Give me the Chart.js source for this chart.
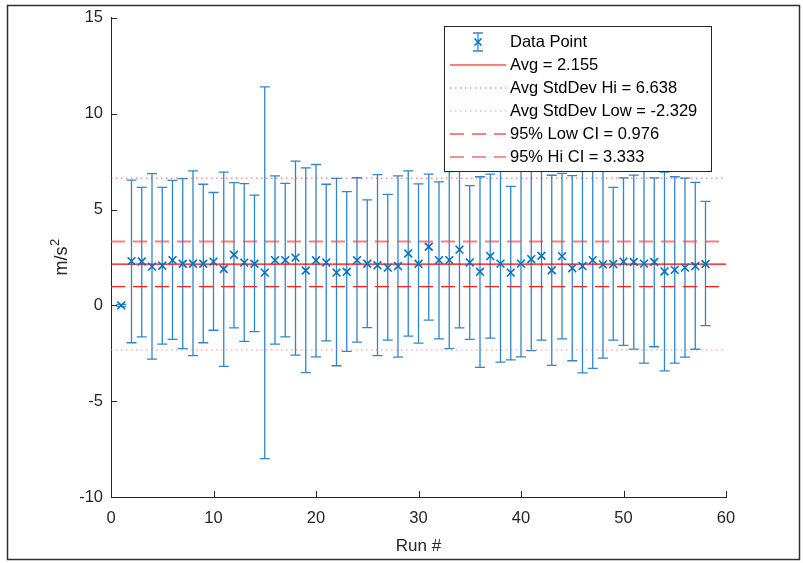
<!DOCTYPE html>
<html>
<head>
<meta charset="utf-8">
<script src="https://cdn.jsdelivr.net/npm/chart.js@4"></script>
<style>
  html, body { margin: 0; background: #fff; }
</style>
</head>
<body>
<canvas id="chart" width="803" height="563"></canvas>
<script>
// run numbers
const runs = [1, 2, 3, 4, 5, 6, 7, 8, 9, 10,
  11, 12, 13, 14, 15, 16, 17, 18, 19, 20,
  21, 22, 23, 24, 25, 26, 27, 28, 29, 30,
  31, 32, 33, 34, 35, 36, 37, 38, 39, 40,
  41, 42, 43, 44, 45, 46, 47, 48, 49, 50,
  51, 52, 53, 54, 55, 56, 57, 58];

// mean value of each run (m/s^2)
const means = [0, 2.31, 2.29, 2.02, 2.07, 2.36, 2.17, 2.17, 2.17, 2.28,
  1.90, 2.64, 2.23, 2.17, 1.71, 2.36, 2.36, 2.49, 1.82, 2.35,
  2.24, 1.71, 1.75, 2.36, 2.17, 2.09, 1.97, 2.05, 2.71, 2.17,
  3.06, 2.36, 2.36, 2.91, 2.24, 1.75, 2.57, 2.18, 1.71, 2.18,
  2.41, 2.59, 1.83, 2.57, 1.94, 2.05, 2.36, 2.14, 2.16, 2.28,
  2.26, 2.18, 2.26, 1.77, 1.85, 1.97, 2.05, 2.16];

// top of each error bar
const upper = [0.05, 6.54, 6.16, 6.87, 6.16, 6.52, 6.61, 7.02, 6.32, 5.89,
  6.95, 6.40, 6.35, 5.75, 11.40, 6.76, 6.37, 7.53, 7.17, 7.35,
  6.32, 6.63, 5.94, 6.66, 5.50, 6.82, 5.79, 6.76, 7.02, 6.34,
  6.85, 6.44, 6.98, 7.00, 6.25, 6.71, 6.85, 7.32, 6.21, 7.05,
  7.18, 6.99, 6.79, 6.89, 6.77, 7.62, 8.01, 7.03, 6.16, 6.65,
  6.80, 7.37, 6.65, 6.96, 6.71, 6.64, 6.42, 5.43];

// bottom of each error bar
const lower = [-0.05, -1.95, -1.64, -2.81, -2.02, -1.78, -2.26, -2.62, -1.95, -1.30,
  -3.18, -1.18, -1.88, -1.37, -8.00, -2.02, -1.64, -2.60, -3.51, -2.69,
  -1.85, -3.15, -2.40, -1.92, -1.16, -2.62, -1.81, -2.70, -1.61, -1.97,
  -0.77, -1.75, -2.26, -1.18, -1.78, -3.24, -1.71, -2.96, -2.84, -2.69,
  -2.36, -1.81, -3.13, -1.75, -2.89, -3.52, -3.29, -2.75, -1.81, -2.09,
  -2.28, -3.01, -2.16, -3.42, -3.01, -2.70, -2.29, -1.06];

// reference lines
const refLabels = ['Avg = 2.155', 'Avg StdDev Hi = 6.638', 'Avg StdDev Low = -2.329',
  '95% Low CI = 0.976', '95% Hi CI = 3.333'];
const refValues = [2.155, 6.638, -2.329, 3.333, 0.976];
const xRange = [0, 60];

const xTicks = [0, 10, 20, 30, 40, 50, 60];
const yTicks = [-10, -5, 0, 5, 10, 15];

const BLUE = '#0072BD';
const AXIS = '#262626';
const FONT = '"Liberation Sans", Arial, sans-serif';

const refStyles = [
  { color: 'rgb(255,0,0)', width: 1.2, dash: [] },
  { color: 'rgba(235,50,50,0.8)', width: 1, dash: [1.5, 3.5] },
  { color: 'rgba(255,110,110,0.8)', width: 1, dash: [1.5, 3.5] },
  { color: 'rgba(255,70,70,0.7)', width: 2, dash: [14, 8] },
  { color: 'rgb(255,30,30)', width: 1.2, dash: [14, 8] }
];

const refDatasets = refValues.map((v, i) => ({
  type: 'line',
  label: refLabels[i],
  data: xRange.map(x => ({ x: x, y: v })),
  borderColor: refStyles[i].color,
  borderWidth: refStyles[i].width,
  borderDash: refStyles[i].dash,
  pointRadius: 0,
  fill: false,
  order: i + 1
}));

const errorBars = {
  id: 'errorBars',
  beforeDatasetsDraw(chart) {
    const { ctx, scales: { x, y } } = chart;
    ctx.save();
    ctx.strokeStyle = '#2f86cb';
    ctx.lineWidth = 1.3;
    runs.forEach((r, i) => {
      const px = x.getPixelForValue(r);
      const top = y.getPixelForValue(upper[i]);
      const bot = y.getPixelForValue(lower[i]);
      ctx.beginPath();
      ctx.moveTo(px, top); ctx.lineTo(px, bot);
      ctx.moveTo(px - 5, top); ctx.lineTo(px + 5, top);
      ctx.moveTo(px - 5, bot); ctx.lineTo(px + 5, bot);
      ctx.stroke();
    });
    ctx.restore();
  }
};

const decorations = {
  id: 'decorations',
  afterDraw(chart) {
    const { ctx, scales: { x, y }, chartArea } = chart;
    ctx.save();
    // inward tick marks
    ctx.strokeStyle = AXIS;
    ctx.lineWidth = 1;
    ctx.beginPath();
    yTicks.forEach(t => {
      const py = Math.round(y.getPixelForValue(t)) + 0.5;
      ctx.moveTo(chartArea.left, py); ctx.lineTo(chartArea.left + 6, py);
    });
    xTicks.forEach(t => {
      const px = Math.round(x.getPixelForValue(t)) + 0.5;
      ctx.moveTo(px, chartArea.bottom); ctx.lineTo(px, chartArea.bottom - 6);
    });
    ctx.stroke();

    // y axis title with superscript
    ctx.save();
    ctx.translate(67, (chartArea.top + chartArea.bottom) / 2);
    ctx.rotate(-Math.PI / 2);
    ctx.fillStyle = AXIS;
    ctx.textBaseline = 'alphabetic';
    ctx.font = '18px ' + FONT;
    const base = 'm/s';
    const w1 = ctx.measureText(base).width;
    ctx.font = '13px ' + FONT;
    const w2 = ctx.measureText('2').width;
    const x0 = -(w1 + w2) / 2;
    ctx.font = '18px ' + FONT;
    ctx.fillText(base, x0, 0);
    ctx.font = '13px ' + FONT;
    ctx.fillText('2', x0 + w1 + 0.5, -8);
    ctx.restore();

    // legend box
    const lx = 444, ly = 26, lw = 267, lh = 145;
    ctx.fillStyle = '#fff';
    ctx.fillRect(lx, ly, lw, lh);
    ctx.strokeStyle = '#262626';
    ctx.lineWidth = 1;
    ctx.strokeRect(lx + 0.5, ly + 0.5, lw, lh);

    const rows = [42, 65, 88, 111, 134, 157];
    ctx.font = '16.5px ' + FONT;
    ctx.textBaseline = 'middle';
    ctx.textAlign = 'left';
    ctx.fillStyle = '#000';
    ctx.fillText('Data Point', 510, rows[0]);

    // data point icon
    const cx = 478, cy = rows[0];
    ctx.strokeStyle = '#2f86cb';
    ctx.lineWidth = 1.3;
    ctx.beginPath();
    ctx.moveTo(cx, cy - 9); ctx.lineTo(cx, cy + 9);
    ctx.moveTo(cx - 5, cy - 9); ctx.lineTo(cx + 5, cy - 9);
    ctx.moveTo(cx - 5, cy + 9); ctx.lineTo(cx + 5, cy + 9);
    ctx.stroke();
    ctx.strokeStyle = BLUE;
    ctx.lineWidth = 1.6;
    ctx.beginPath();
    ctx.moveTo(cx - 3.5, cy - 3.5); ctx.lineTo(cx + 3.5, cy + 3.5);
    ctx.moveTo(cx - 3.5, cy + 3.5); ctx.lineTo(cx + 3.5, cy - 3.5);
    ctx.stroke();

    refLabels.forEach((label, i) => {
      const st = refStyles[i];
      const ry = rows[i + 1];
      ctx.setLineDash(st.dash);
      ctx.strokeStyle = st.color;
      ctx.lineWidth = st.width;
      ctx.beginPath();
      ctx.moveTo(450, ry);
      ctx.lineTo(506, ry);
      ctx.stroke();
      ctx.setLineDash([]);
      ctx.fillStyle = '#000';
      ctx.fillText(label, 510, ry);
    });

    // figure frame
    ctx.strokeStyle = '#303030';
    ctx.lineWidth = 1.5;
    ctx.strokeRect(7.5, 5.5, 792, 554);
    ctx.restore();
  }
};

new Chart(document.getElementById('chart'), {
  type: 'scatter',
  data: {
    datasets: [{
      label: 'Data Point',
      data: runs.map((r, i) => ({ x: r, y: means[i] })),
      pointStyle: 'crossRot',
      pointRadius: 5.5,
      pointBorderWidth: 1.6,
      borderColor: BLUE,
      backgroundColor: BLUE,
      showLine: false,
      order: 0
    }].concat(refDatasets)
  },
  options: {
    responsive: false,
    animation: false,
    events: [],
    layout: { padding: { left: 0, top: 11, right: 77, bottom: 0 } },
    plugins: {
      legend: { display: false },
      tooltip: { enabled: false }
    },
    scales: {
      x: {
        type: 'linear',
        min: 0,
        max: 60,
        afterBuildTicks: s => { s.ticks = xTicks.map(v => ({ value: v })); },
        afterFit: s => { s.height = 66; },
        grid: { display: false, drawTicks: false },
        border: { display: true, color: AXIS, width: 1 },
        ticks: { color: AXIS, padding: 12, font: { family: FONT, size: 16.5 } },
        title: {
          display: true,
          text: 'Run #',
          color: AXIS,
          font: { family: FONT, size: 17 },
          padding: { top: 0, bottom: 6 }
        }
      },
      y: {
        type: 'linear',
        min: -10,
        max: 15,
        afterBuildTicks: s => { s.ticks = yTicks.map(v => ({ value: v })); },
        afterFit: s => { s.width = 111; },
        grid: { display: false, drawTicks: false },
        border: { display: true, color: AXIS, width: 1 },
        ticks: { color: AXIS, padding: 8, font: { family: FONT, size: 16.5 } }
      }
    }
  },
  plugins: [errorBars, decorations]
});
</script>
</body>
</html>
